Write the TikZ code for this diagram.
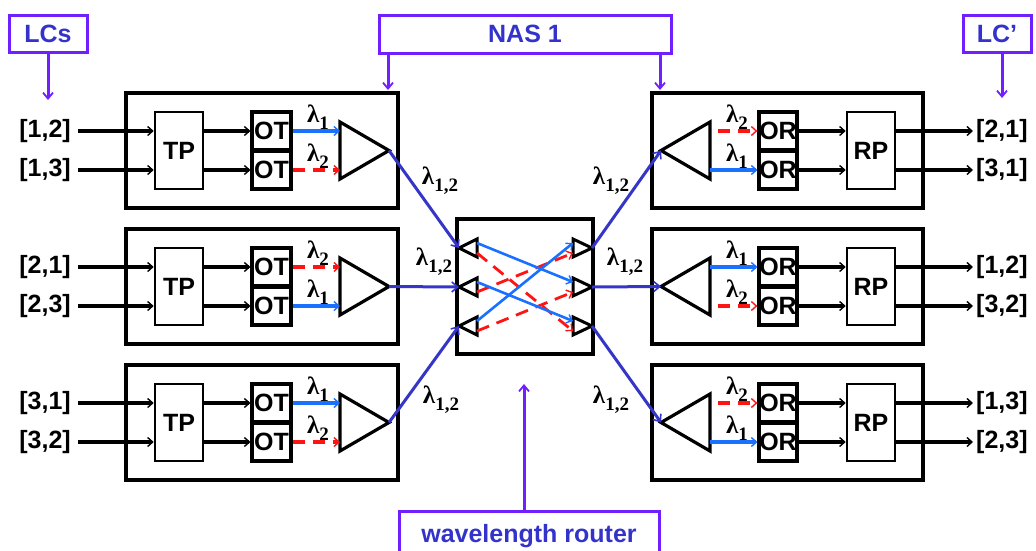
\documentclass[tikz,border=0pt]{standalone}
\usepackage{fontspec}
\setmainfont{Liberation Sans}
\newfontfamily\serifl{Liberation Serif}
\usetikzlibrary{arrows.meta,calc}
\definecolor{nasviolet}{RGB}{112,32,255}
\definecolor{nastext}{RGB}{51,51,204}
\definecolor{fiber}{RGB}{53,53,200}
\definecolor{lamblue}{RGB}{26,112,255}
\definecolor{lamred}{RGB}{255,20,20}
\newcommand\lamsub[1]{λ\raisebox{-0.28em}{\fontsize{19}{20}\selectfont #1}}
\tikzset{
  unit/.style={draw, line width=3.4pt, inner sep=0pt},
  blk/.style={draw, line width=2.6pt, inner sep=0pt, minimum width=48pt, minimum height=77pt, font=\fontsize{25}{28}\selectfont\bfseries},
  cell/.style={draw, line width=3.2pt, inner sep=0pt, minimum width=39pt, minimum height=38pt, font=\fontsize{25}{28}\selectfont\bfseries},
  port/.style={inner sep=0pt, font=\fontsize{25}{28}\selectfont\bfseries},
  tipa/.style={-{Straight Barb[length=5pt,width=9pt,line width=1.4pt]}},
  sig/.style={line width=3.2pt, tipa},
  lam1/.style={draw=lamblue, line width=3.2pt, tipa},
  lam2/.style={draw=lamred, line width=3.2pt, dash pattern=on 12pt off 8pt, tipa},
  rlam1/.style={lam1},
  rlam2/.style={lam2, dash phase=12pt},
  tri/.style={line width=3.2pt, line join=miter},
  rtri/.style={line width=3pt, line join=miter},
  lamlbl/.style={inner sep=0pt, font=\serifl\bfseries\fontsize{25}{28}\selectfont},
  fib/.style={draw=fiber, line width=3pt, -{Straight Barb[length=6pt,width=10pt,line width=1.6pt]}},
  rblue/.style={draw=lamblue, line width=2.6pt, tipa},
  rred/.style={draw=lamred, line width=2.8pt, dash pattern=on 13pt off 8pt, tipa},
  note/.style={draw=nasviolet, line width=3pt, text=nastext, inner sep=0pt, font=\fontsize{25}{28}\selectfont\bfseries},
  pointer/.style={draw=nasviolet, line width=3pt, -{Straight Barb[length=6pt,width=10pt,line width=1.8pt]}}
}
% #1 index, #2 dy, #3 input a, #4 input b, #5 top lambda, #6 bottom lambda
\newcommand\leftunit[6]{%
  \node[unit, minimum width=272pt, minimum height=115pt] (LU#1) at (262,150.5+#2) {};
  \node[blk] (TP#1) at (179,150.5+#2) {TP};
  \node[cell] (OTa#1) at (271.5,131+#2) {OT};
  \node[cell] (OTb#1) at (271.5,170+#2) {OT};
  \node[port, anchor=east] (INa#1) at (71,131+#2) {#3};
  \node[port, anchor=east] (INb#1) at (71,170+#2) {#4};
  \draw[sig] ([xshift=7pt]INa#1.east) -- (TP#1.west |- INa#1.east);
  \draw[sig] ([xshift=7pt]INb#1.east) -- (TP#1.west |- INb#1.east);
  \draw[sig] (TP#1.east |- OTa#1) -- (OTa#1.west);
  \draw[sig] (TP#1.east |- OTb#1) -- (OTb#1.west);
  \coordinate (LTt#1) at (340,122+#2);
  \coordinate (LTb#1) at (340,179+#2);
  \coordinate (LTx#1) at (389,150.5+#2);
  \draw[tri] (LTt#1) -- (LTx#1) -- (LTb#1) -- cycle;
  \draw[lam#5] (OTa#1.east) -- (OTa#1.east -| LTt#1);
  \draw[lam#6] (OTb#1.east) -- (OTb#1.east -| LTt#1);
  \node[lamlbl] (LLa#1) at (318,117+#2) {\lamsub{#5}};
  \node[lamlbl] (LLb#1) at (318,156+#2) {\lamsub{#6}};
}
% #1 index, #2 dy, #3 output a, #4 output b, #5 top lambda, #6 bottom lambda
\newcommand\rightunit[6]{%
  \node[unit, minimum width=271pt, minimum height=115pt] (RU#1) at (787.5,150.5+#2) {};
  \coordinate (RTx#1) at (661,150.5+#2);
  \coordinate (RTt#1) at (710,122+#2);
  \coordinate (RTb#1) at (710,179+#2);
  \draw[tri] (RTx#1) -- (RTt#1) -- (RTb#1) -- cycle;
  \node[cell, minimum width=38pt] (ORa#1) at (778,131+#2) {OR};
  \node[cell, minimum width=38pt] (ORb#1) at (778,170+#2) {OR};
  \node[blk] (RP#1) at (871,150.5+#2) {RP};
  \draw[rlam#5] (RTt#1 |- ORa#1) -- (ORa#1.west);
  \draw[rlam#6] (RTt#1 |- ORb#1) -- (ORb#1.west);
  \node[lamlbl] (RLa#1) at (737,117+#2) {\lamsub{#5}};
  \node[lamlbl] (RLb#1) at (737,156+#2) {\lamsub{#6}};
  \draw[sig] (ORa#1.east) -- (RP#1.west |- ORa#1);
  \draw[sig] (ORb#1.east) -- (RP#1.west |- ORb#1);
  \node[port, anchor=west] (OUa#1) at (976,131+#2) {#3};
  \node[port, anchor=west] (OUb#1) at (976,170+#2) {#4};
  \draw[sig] (RP#1.east |- OUa#1.west) -- ([xshift=-3pt]OUa#1.west);
  \draw[sig] (RP#1.east |- OUb#1.west) -- ([xshift=-3pt]OUb#1.west);
}
\begin{document}
\begin{tikzpicture}[x=1pt,y=-1pt]
\useasboundingbox (0,0) rectangle (1036,550);
\clip (0,0) rectangle (1036,550);

\leftunit{0}{0}{[1,2]}{[1,3]}{1}{2}
\leftunit{1}{136}{[2,1]}{[2,3]}{2}{1}
\leftunit{2}{272}{[3,1]}{[3,2]}{1}{2}

\rightunit{0}{0}{[2,1]}{[3,1]}{2}{1}
\rightunit{1}{136}{[1,2]}{[3,2]}{1}{2}
\rightunit{2}{272}{[1,3]}{[2,3]}{2}{1}

% wavelength router
\node[unit, minimum width=136pt, minimum height=135pt] (WRbox) at (525,286.5) {};
\foreach \j/\yy in {1/248,2/287,3/326}{
  \coordinate (RLx\j) at (459,\yy);
  \coordinate (RLt\j) at (477,\yy-9);
  \coordinate (RLb\j) at (477,\yy+9);
  \draw[rtri] (RLx\j) -- (RLt\j) -- (RLb\j) -- cycle;
  \coordinate (RLo\j) at (477,\yy-5);
  \coordinate (RLr\j) at (477,\yy+5);
  \coordinate (RRx\j) at (592,\yy);
  \coordinate (RRt\j) at (573,\yy-9);
  \coordinate (RRb\j) at (573,\yy+9);
  \draw[rtri] (RRx\j) -- (RRt\j) -- (RRb\j) -- cycle;
  \coordinate (RRi\j) at (573,\yy-5);
  \coordinate (RRs\j) at (573,\yy+5);
}
\draw[rred] (RLr1) -- (RRs3);
\draw[rred] (RLr2) -- (RRs1);
\draw[rred] (RLr3) -- (RRs2);
\draw[rblue] (RLo1) -- (RRi2);
\draw[rblue] (RLo2) -- (RRi3);
\draw[rblue] (RLo3) -- (RRi1);

% fibres
\draw[fib] (LTx0) -- (RLx1);
\draw[fib] (LTx1) -- (RLx2);
\draw[fib] (LTx2) -- (RLx3);
\draw[fib] (RRx1) -- (RTx0);
\draw[fib] (RRx2) -- (RTx1);
\draw[fib] (RRx3) -- (RTx2);
\node[lamlbl] (F1) at (440,181) {\lamsub{1,2}};
\node[lamlbl] (F2) at (434,262) {\lamsub{1,2}};
\node[lamlbl] (F3) at (441,400) {\lamsub{1,2}};
\node[lamlbl] (F4) at (611,181) {\lamsub{1,2}};
\node[lamlbl] (F5) at (625,262) {\lamsub{1,2}};
\node[lamlbl] (F6) at (611,400) {\lamsub{1,2}};

% annotations
\node[note, minimum width=78pt, minimum height=37pt] (LCs) at (48,33.5) {LCs};
\coordinate (LCsA) at (48,100);
\draw[pointer] (LCs.south) -- (LCsA);
\node[note, minimum width=292pt, minimum height=38pt] (NAS) at (525,34) {NAS 1};
\coordinate (NASa) at (388,90);
\coordinate (NASb) at (660,90);
\draw[pointer] (NAS.south -| NASa) -- (NASa);
\draw[pointer] (NAS.south -| NASb) -- (NASb);
\node[note, minimum width=68pt, minimum height=37pt] (LCp) at (997,33.5) {LC’};
\coordinate (LCpA) at (1002,98);
\draw[pointer] (LCp.south -| LCpA) -- (LCpA);
\node[note, minimum width=260pt, minimum height=50pt] (WR) at (529,536) {wavelength router};
\coordinate (WRa) at (524,384);
\draw[pointer] (WR.north -| WRa) -- (WRa);
\end{tikzpicture}
\end{document}
